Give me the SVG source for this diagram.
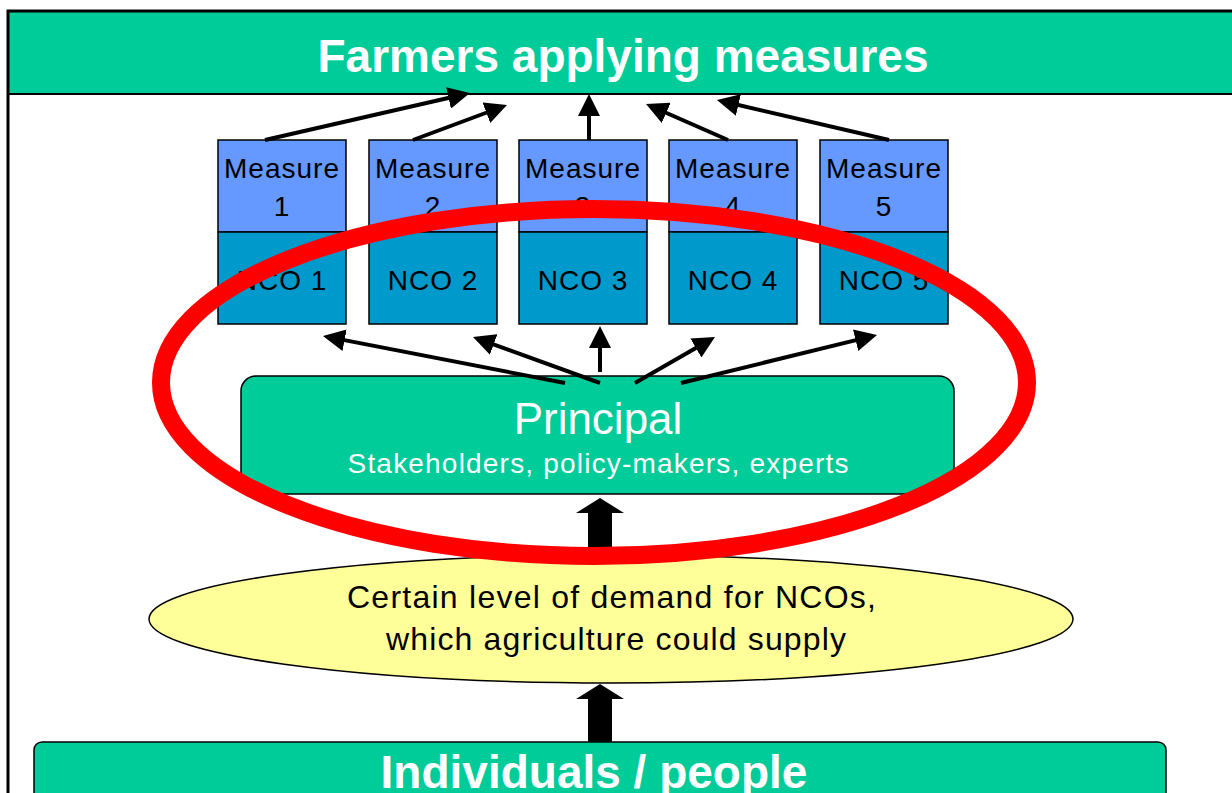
<svg xmlns="http://www.w3.org/2000/svg" width="1232" height="793" viewBox="0 0 1232 793">
<style>
.green{fill:#00CC99;stroke:#000;stroke-width:1.5}
.meas{fill:#6699FF;stroke:#000;stroke-width:1.5}
.nco{fill:#0099CC;stroke:#000;stroke-width:1.5}
.t{font-family:"Liberation Sans",Arial,sans-serif;text-anchor:middle}
.bt{font-size:28px;fill:#000;letter-spacing:1px}
.wb{font-size:46px;font-weight:bold;fill:#fff}
.conn{stroke:#000;stroke-width:4;fill:none;marker-end:url(#ah)}
</style>
<defs>
<marker id="ah" markerUnits="userSpaceOnUse" markerWidth="24" markerHeight="22" viewBox="0 0 24 22" refX="12" refY="11" orient="auto">
<path d="M0,0 L22,11 L0,22 z" fill="#000"/>
</marker>
</defs>
<rect width="1232" height="793" fill="#fff"/>
<g id="frame">
<rect x="8" y="11" width="1240" height="83" fill="#00CC99"/>
<line x1="8" y1="94" x2="1232" y2="94" stroke="#000" stroke-width="2"/>
<rect x="8" y="11" width="1240" height="800" fill="none" stroke="#000" stroke-width="3"/>
</g>
<g id="header">
<text class="t wb" x="623" y="72">Farmers applying measures</text>
</g>
<g id="measure1">
<rect class="meas" x="218" y="140" width="128" height="92"/>
<rect class="nco" x="218" y="232" width="128" height="92"/>
<text class="t bt" x="282" y="178">Measure</text><text class="t bt" x="282" y="216">1</text>
<text class="t bt" x="282" y="290">NCO 1</text>
</g>
<g id="measure2">
<rect class="meas" x="369" y="140" width="128" height="92"/>
<rect class="nco" x="369" y="232" width="128" height="92"/>
<text class="t bt" x="433" y="178">Measure</text><text class="t bt" x="433" y="216">2</text>
<text class="t bt" x="433" y="290">NCO 2</text>
</g>
<g id="measure3">
<rect class="meas" x="519" y="140" width="128" height="92"/>
<rect class="nco" x="519" y="232" width="128" height="92"/>
<text class="t bt" x="583" y="178">Measure</text><text class="t bt" x="583" y="216">3</text>
<text class="t bt" x="583" y="290">NCO 3</text>
</g>
<g id="measure4">
<rect class="meas" x="669" y="140" width="128" height="92"/>
<rect class="nco" x="669" y="232" width="128" height="92"/>
<text class="t bt" x="733" y="178">Measure</text><text class="t bt" x="733" y="216">4</text>
<text class="t bt" x="733" y="290">NCO 4</text>
</g>
<g id="measure5">
<rect class="meas" x="820" y="140" width="128" height="92"/>
<rect class="nco" x="820" y="232" width="128" height="92"/>
<text class="t bt" x="884" y="178">Measure</text><text class="t bt" x="884" y="216">5</text>
<text class="t bt" x="884" y="290">NCO 5</text>
</g>
<g id="principal">
<rect class="green" x="241" y="376" width="713" height="118" rx="15"/>
<text class="t" x="598" y="434" font-size="44" fill="#fff">Principal</text>
<text class="t" x="598" y="473" font-size="28" fill="#fff" textLength="501">Stakeholders, policy-makers, experts</text>
</g>
<g id="demand">
<ellipse cx="611" cy="619" rx="462" ry="64" fill="#FFFF99" stroke="#000" stroke-width="1.5"/>
<text font-family="&quot;Liberation Sans&quot;, Arial, sans-serif" font-size="32" x="347" y="608" textLength="529">Certain level of demand for NCOs,</text>
<text font-family="&quot;Liberation Sans&quot;, Arial, sans-serif" font-size="32" x="386" y="650" textLength="460">which agriculture could supply</text>
</g>
<g id="individuals">
<rect class="green" x="34" y="742" width="1132" height="80" rx="8"/>
<text class="t wb" x="594" y="788">Individuals / people</text>
</g>
<g id="connectors">
<line class="conn" x1="265" y1="140" x2="460.2" y2="95.2"/>
<line class="conn" x1="413" y1="140" x2="497.6" y2="108.5"/>
<line class="conn" x1="589" y1="140" x2="589" y2="104"/>
<line class="conn" x1="728" y1="140" x2="655.2" y2="108"/>
<line class="conn" x1="889" y1="140" x2="726.7" y2="102.3"/>
<line class="conn" x1="565" y1="383" x2="332.8" y2="337.9"/>
<line class="conn" x1="600" y1="383" x2="482.4" y2="340.4"/>
<line class="conn" x1="600" y1="372" x2="600" y2="336"/>
<line class="conn" x1="635" y1="383" x2="706.3" y2="342"/>
<line class="conn" x1="681" y1="383" x2="867.3" y2="337.4"/>
<polygon points="600,498 624,513 612,513 612,556 588,556 588,513 576,513" fill="#000"/>
<polygon points="600,684 624,699 612,699 612,742 588,742 588,699 576,699" fill="#000"/>
</g>
<g id="highlight">
<ellipse cx="594" cy="382.5" rx="433" ry="173.5" fill="none" stroke="#FF0000" stroke-width="18"/>
</g>
</svg>
